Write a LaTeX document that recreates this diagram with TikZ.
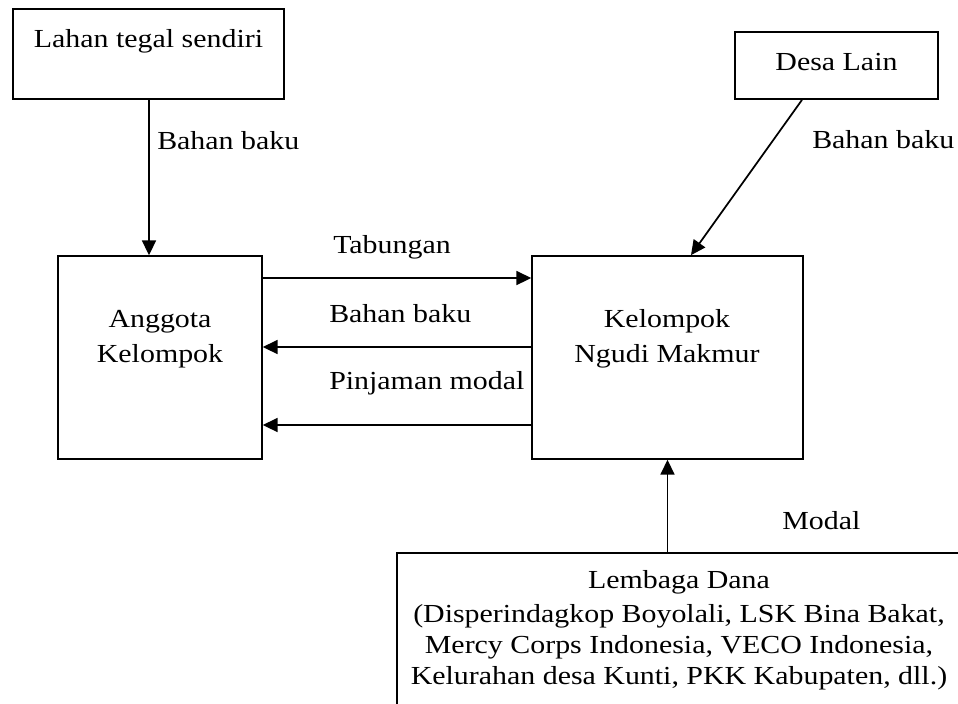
\documentclass[tikz,border=0pt]{standalone}
\usepackage{fontspec}
\setmainfont[FakeStretch=1.15]{Liberation Serif}
\usetikzlibrary{arrows.meta}
\begin{document}
\begin{tikzpicture}[x=0.75pt,y=-0.75pt,
  box/.style={draw,line width=1.3pt,rectangle,inner sep=0pt},
  txt/.style={inner sep=0pt,font=\fontsize{19.5}{26.25}\selectfont,align=center},
  lbl/.style={inner sep=0pt,font=\fontsize{19.5}{26.25}\selectfont,anchor=base west},
  arr/.style={line width=1.3pt,-{Triangle[length=11pt,width=10.5pt]}}]
\clip (0,0) rectangle (958,704);
\fill[white] (0,0) rectangle (958,704);
% boxes
\node[box,minimum width=203.25pt,minimum height=67.5pt] (lahan) at (148.5,54) {};
\node[box,minimum width=153pt,minimum height=152.25pt] (anggota) at (160,357.5) {};
\node[box,minimum width=203.25pt,minimum height=152.25pt] (kelompok) at (667.5,357.5) {};
\node[box,minimum width=152.25pt,minimum height=50.25pt] (desa) at (836.5,65.5) {};
\node[box,minimum width=423pt,minimum height=160.5pt] (lembaga) at (679,660) {};
% box texts (base = baseline of last line)
\node[txt,anchor=base] (tlahan) at (148.5,47) {Lahan tegal sendiri};
\node[txt,anchor=base] (tanggota) at (160,362) {Anggota\\Kelompok};
\node[txt,anchor=base] (tkelompok) at (667,362) {Kelompok\\Ngudi Makmur};
\node[txt,anchor=base] (tdesa) at (836.5,70) {Desa Lain};
\node[txt,anchor=base,font=\fontsize{19.5}{23.25}\selectfont] (tlembaga) at (679,684) {Lembaga Dana\\[2.25pt](Disperindagkop Boyolali, LSK Bina Bakat,\\Mercy Corps Indonesia, VECO Indonesia,\\Kelurahan desa Kunti, PKK Kabupaten, dll.)};
% helper coordinates
\coordinate (xa) at (149,0);
\coordinate (ya) at (0,278);
\coordinate (yb) at (0,347);
\coordinate (yc) at (0,425);
\coordinate (xd) at (802,0);
\coordinate (xe) at (691,0);
% connectors
\draw[arr] (lahan.south -| xa) -- (anggota.north -| xa);
\draw[arr] (anggota.east |- ya) -- (kelompok.west |- ya);
\draw[arr] (kelompok.west |- yb) -- (anggota.east |- yb);
\draw[arr] (kelompok.west |- yc) -- (anggota.east |- yc);
\draw[arr] (desa.south -| xd) -- (kelompok.north -| xe);
\draw[arr] (lembaga.north -| kelompok.south) -- (kelompok.south);
% labels
\node[lbl] (l1) at (157,149) {Bahan baku};
\node[lbl] (l2) at (333,253) {Tabungan};
\node[lbl] (l3) at (329,322) {Bahan baku};
\node[lbl] (l4) at (329,389) {Pinjaman modal};
\node[lbl] (l5) at (812,148) {Bahan baku};
\node[lbl] (l6) at (782,529) {Modal};
\end{tikzpicture}
\end{document}
